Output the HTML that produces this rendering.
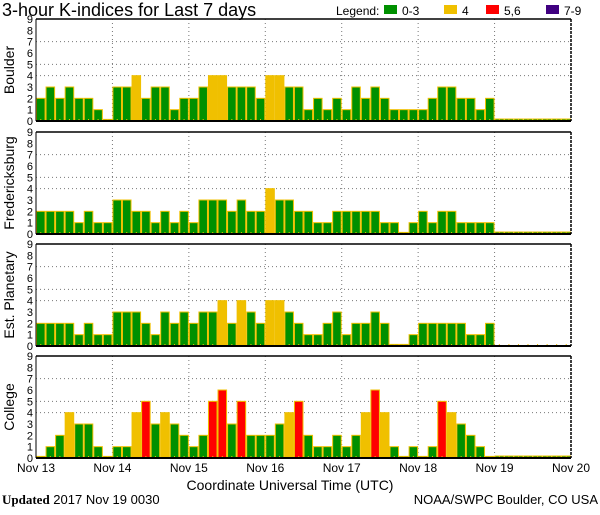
<!DOCTYPE html>
<html><head><meta charset="utf-8"><style>
body{margin:0;background:#fff;width:600px;height:510px;overflow:hidden}
svg text{font-family:"Liberation Sans",sans-serif}
</style></head><body>
<svg id="c" width="600" height="510" xmlns="http://www.w3.org/2000/svg">
<text x="2" y="16" font-size="18">3-hour K-indices for Last 7 days</text>
<g font-size="12">
<text x="336" y="15">Legend:</text>
<rect x="384" y="5" width="13" height="9" fill="#009000"/>
<text x="402" y="15">0-3</text>
<rect x="444" y="5" width="13" height="9" fill="#f0c000"/>
<text x="462" y="15">4</text>
<rect x="486" y="5" width="13" height="9" fill="#ff0000"/>
<text x="504" y="15">5,6</text>
<rect x="546" y="5" width="13" height="9" fill="#400080"/>
<text x="564" y="15">7-9</text>
</g>
<text x="290" y="490" font-size="14" text-anchor="middle">Coordinate Universal Time (UTC)</text>
<text x="2" y="504" font-size="13"><tspan font-weight="bold" font-family="Liberation Serif">Updated</tspan> 2017 Nov 19 0030</text>
<text x="598" y="504" font-size="13" text-anchor="end">NOAA/SWPC Boulder, CO USA</text>
</svg>
<script>
const stations = ["Boulder","Fredericksburg","Est. Planetary","College"];
const boulder = [2,3,2,3,2,2,1,0, 3,3,4,2,3,3,1,2, 2,3,4,4,3,3,3,2, 4,4,3,3,1,2,1,2, 1,3,2,3,2,1,1,1, 1,2,3,3,2,2,1,2];
const fredericksburg = [2,2,2,2,1,2,1,1, 3,3,2,2,1,2,1,2, 1,3,3,3,2,3,2,2, 4,3,3,2,2,1,1,2, 2,2,2,2,1,1,0,1, 2,1,2,2,1,1,1,1];
const planetary = [2,2,2,2,1,2,1,1, 3,3,3,2,1,3,2,3, 2,3,3,4,2,4,3,2, 4,4,3,2,1,1,2,3, 1,2,2,3,2,0,0,1, 2,2,2,2,2,1,1,2];
const college = [0,1,2,4,3,3,1,0, 1,1,4,5,3,4,3,2, 1,2,5,6,3,5,2,2, 2,3,4,5,2,1,1,2, 1,2,4,6,4,1,0,1, 0,1,5,4,3,2,1,0];
const series = [boulder,fredericksburg,planetary,college];
const showFuture = [true,true,false,true];
const dayLabels = ["Nov 13","Nov 14","Nov 15","Nov 16","Nov 17","Nov 18","Nov 19","Nov 20"];
const yTicks = [0,1,2,3,4,5,6,7,8,9];

const NS="http://www.w3.org/2000/svg";
const svg=document.getElementById('c');
const X0=36,X1=571,NB=56,BW=(X1-X0)/NB;
const panelTops=[19,132,244,356],PH=102;
function xs(i){return X0+i*BW;}
function mk(t,a,p){const e=document.createElementNS(NS,t);for(const k in a)e.setAttribute(k,a[k]);(p||svg).appendChild(e);return e;}
function col(v){return v<=3?"#009000":v==4?"#f0c000":v<=6?"#ff0000":"#400080";}

series.forEach((data,s)=>{
  const top=panelTops[s],bot=top+PH;
  const ys=v=>bot-v*PH/9;
  const g=mk('g',{});
  
  
  [4,5,7].forEach(v=>{const l=mk('line',{x1:X0,x2:X1,y1:ys(v),y2:ys(v),stroke:'#777','stroke-dasharray':'1,3'},g);
    });
  for(let d=1;d<7;d++){const l=mk('line',{x1:xs(d*8),x2:xs(d*8),y1:top,y2:bot,stroke:'#777','stroke-dasharray':'1,3'},g);
    }
  data.forEach((v,i)=>{
    const h=Math.max(v*PH/9,1.6);
    const r=mk('rect',{x:xs(i)+0.5,y:bot-h,width:BW-1,height:h-0.5,fill:col(v),stroke:'#f0c000','stroke-width':1},g);
    
    
  });
  if(showFuture[s]){
    for(let i=data.length;i<NB;i++){
      const r=mk('rect',{x:xs(i)+0.5,y:bot-2,width:BW-1,height:1.5,fill:'#009000',stroke:'#f0c000','stroke-width':1},g);
      
      
    }
  }
  for(let i=0;i<NB;i++){mk('line',{x1:xs(i)+BW/2,x2:xs(i)+BW/2,y1:bot-2,y2:bot,stroke:'#f0c000'},g);}
  mk('line',{x1:X0,x2:X1,y1:top,y2:top,stroke:'#000','stroke-width':1.5},g);
  mk('line',{x1:X0,x2:X1,y1:bot,y2:bot,stroke:'#000','stroke-width':2},g);
  mk('line',{x1:X0,x2:X0,y1:top,y2:bot,stroke:'#000','stroke-width':1},g);
  mk('line',{x1:X1,x2:X1,y1:top,y2:bot,stroke:'#000','stroke-width':1.5,'stroke-dasharray':'3,1'},g);
  yTicks.forEach(v=>{const t=mk('text',{x:33,y:ys(v)+4,'font-size':11,'text-anchor':'end'},g);t.textContent=v;
    });
  const yt=mk('text',{x:14,y:top+PH/2,'font-size':14,'text-anchor':'middle',transform:`rotate(-90 14 ${top+PH/2})`},g);
  yt.textContent=stations[s];
  
  
});
dayLabels.forEach((d,i)=>{const t=mk('text',{x:xs(i*8),y:472,'font-size':12,'text-anchor':'middle'});t.textContent=d;
  
  });
</script>
</body></html>
